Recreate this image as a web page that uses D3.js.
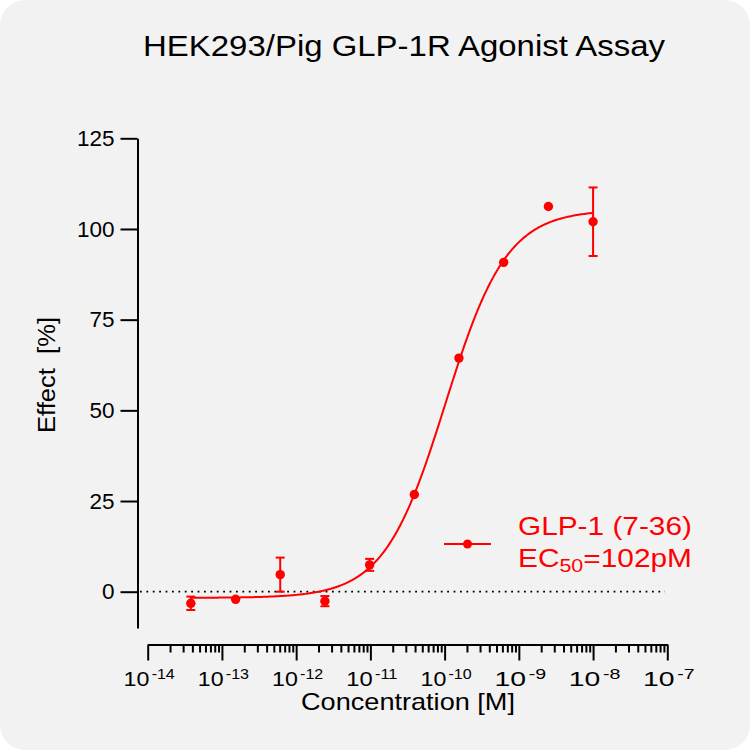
<!DOCTYPE html>
<html>
<head>
<meta charset="utf-8">
<script src="https://cdn.jsdelivr.net/npm/d3@7"></script>
<style>
  body { margin: 0; background: #fff; }
  text { font-family: Arial, "Liberation Sans", sans-serif; fill: #000; }
  .axis path, .axis line { stroke: #000; stroke-width: 2; }
  .red { fill: #ff0000; }
</style>
</head>
<body>
<div class="container"></div>
<script>
const width = 750;
const height = 750;

// concentrations [M] (4-fold dilution series)
const conc = [3.81e-14, 1.53e-13, 6.10e-13, 2.44e-12, 9.77e-12, 3.91e-11, 1.56e-10, 6.25e-10, 2.5e-9, 1e-8];
const effect = [-3.2, -2.1, 4.7, -2.6, 7.4, 26.8, 64.4, 90.8, 106.2, 102.0];
const sem = [1.85, 0, 4.7, 1.4, 1.65, 0, 0, 0, 0, 9.45];

// 4PL fit parameters
const fitBottom = -1.7;
const fitTop = 105.3;
const logEC50 = -9.99;
const hill = 1.05;

const yTicks = [0, 25, 50, 75, 100, 125];
const xMajor = [-14, -13, -12, -11, -10, -9, -8, -7];

const svg = d3.select(".container")
  .append("svg")
    .attr("width", width)
    .attr("height", height);

svg.append("rect")
  .attr("width", width)
  .attr("height", height)
  .attr("rx", 25)
  .attr("fill", "#f2f2f2");

const x = d3.scaleLog().domain([1e-14, 1e-7]).range([147.7, 667.3]);
const y = d3.scaleLinear().domain([0, 125]).range([591.7, 138.3]);

// stretch a text horizontally so it spans the given width
function stretch(t, cx, cy, target, rotate) {
  const w = t.node().getComputedTextLength();
  const s = target / w;
  t.attr("x", 0).attr("y", 0)
   .attr("transform", "translate(" + cx + "," + cy + ")" + (rotate ? " rotate(-90)" : "") + " scale(" + s + ",1)");
}

// title
const title = svg.append("text")
  .attr("text-anchor", "middle")
  .style("font-size", "29.5px")
  .text("HEK293/Pig GLP-1R Agonist Assay");
stretch(title, 404, 56, 522);

// y axis
const yAxis = svg.append("g")
  .attr("class", "axis")
  .attr("transform", "translate(137.5,0)")
  .call(d3.axisLeft(y.copy().domain([-10, 125]).range([y(-10), y(125)]))
    .tickValues(yTicks)
    .tickSize(17)
    .tickSizeOuter(0)
    .tickPadding(6));
yAxis.selectAll("text")
  .style("font-size", "22.5px")
  .style("font-family", "Arial, 'Liberation Sans', sans-serif");

const ylab = svg.append("text")
  .attr("text-anchor", "middle")
  .style("font-size", "24px")
  .style("white-space", "pre")
  .text("Effect  [%]");
stretch(ylab, 55, 375, 116, true);

// x axis: minor ticks
const minor = x.ticks().filter(d => Math.abs(Math.log10(d) - Math.round(Math.log10(d))) > 1e-6);
svg.append("g")
  .attr("class", "axis")
  .attr("transform", "translate(0,644.5)")
  .call(d3.axisBottom(x)
    .tickValues(minor)
    .tickSize(8)
    .tickSizeOuter(0)
    .tickFormat(""));

const xAxis = svg.append("g")
  .attr("class", "axis")
  .attr("transform", "translate(0,644.5)")
  .call(d3.axisBottom(x)
    .tickValues(xMajor.map(e => Math.pow(10, e)))
    .tickSize(16)
    .tickSizeOuter(0)
    .tickFormat(""));

xAxis.selectAll(".tick")
  .append("text")
    .attr("text-anchor", "middle")
    .style("font-size", "21px")
    .each(function(d) {
      const t = d3.select(this);
      t.append("tspan").text("10");
      t.append("tspan")
        .attr("dx", 2)
        .attr("dy", -7)
        .style("font-size", "14.5px")
        .text("-" + Math.abs(Math.round(Math.log10(d))));
      stretch(t, 1, 41.5, 49);
    });

const xlab = svg.append("text")
  .attr("text-anchor", "middle")
  .style("font-size", "24px")
  .text("Concentration [M]");
stretch(xlab, 408, 710, 214);

// zero line
svg.append("line")
  .attr("x1", 140)
  .attr("x2", 665)
  .attr("y1", y(0))
  .attr("y2", y(0))
  .attr("stroke", "#000")
  .attr("stroke-width", 1.8)
  .attr("stroke-dasharray", "1.8,4.6");

// fitted curve
const logs = d3.range(Math.log10(conc[0]), Math.log10(conc[conc.length - 1]) + 0.001, 0.02);
const fit = l => fitBottom + (fitTop - fitBottom) / (1 + Math.pow(10, (logEC50 - l) * hill));

svg.append("path")
  .datum(logs)
  .attr("fill", "none")
  .attr("stroke", "#ff0000")
  .attr("stroke-width", 2)
  .attr("d", d3.line()
    .x(l => x(Math.pow(10, l)))
    .y(l => y(fit(l))));

// error bars
const points = conc.map((c, i) => ({c: c, v: effect[i], e: sem[i]}));
const bars = svg.append("g")
  .attr("stroke", "#ff0000")
  .attr("stroke-width", 2)
  .selectAll("g")
  .data(points.filter(d => d.e > 0))
  .join("g");

bars.append("line")
  .attr("x1", d => x(d.c)).attr("x2", d => x(d.c))
  .attr("y1", d => y(d.v - d.e)).attr("y2", d => y(d.v + d.e));
bars.append("line")
  .attr("x1", d => x(d.c) - 4.5).attr("x2", d => x(d.c) + 4.5)
  .attr("y1", d => y(d.v + d.e)).attr("y2", d => y(d.v + d.e));
bars.append("line")
  .attr("x1", d => x(d.c) - 4.5).attr("x2", d => x(d.c) + 4.5)
  .attr("y1", d => y(d.v - d.e)).attr("y2", d => y(d.v - d.e));

svg.append("g")
  .selectAll("circle")
  .data(points)
  .join("circle")
    .attr("cx", d => x(d.c))
    .attr("cy", d => y(d.v))
    .attr("r", 4.7)
    .attr("fill", "#ff0000");

// legend
const legend = svg.append("g");
legend.append("line")
  .attr("x1", 444).attr("x2", 491)
  .attr("y1", 544).attr("y2", 544)
  .attr("stroke", "#ff0000")
  .attr("stroke-width", 2);
legend.append("circle")
  .attr("cx", 467.5).attr("cy", 544)
  .attr("r", 4.5)
  .attr("fill", "#ff0000");
const name = legend.append("text")
  .attr("class", "red")
  .style("font-size", "26.5px")
  .text("GLP-1 (7-36)");
stretch(name, 518, 535, 174);
const ec = legend.append("text")
  .attr("class", "red")
  .style("font-size", "26.5px");
ec.append("tspan").text("EC");
ec.append("tspan").attr("dy", 5).style("font-size", "19px").text("50");
ec.append("tspan").attr("dy", -5).text("=102pM");
stretch(ec, 518, 567, 174);
</script>
</body>
</html>
